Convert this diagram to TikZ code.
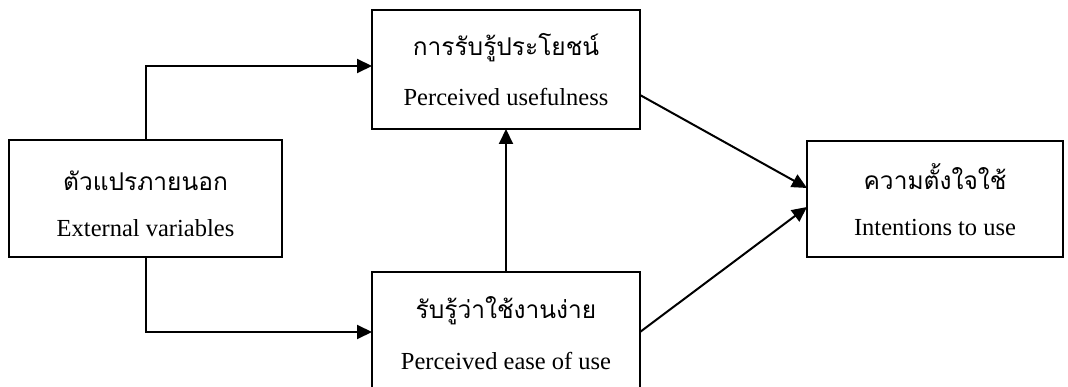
\documentclass[tikz,border=0pt]{standalone}
\usepackage{fontspec}
\setmainfont{Liberation Serif}
\newfontfamily\thaifont[Script=Thai]{Loma}
\usetikzlibrary{arrows.meta}
\begin{document}
\begin{tikzpicture}[x=1pt,y=-1pt,
  box/.style={draw,line width=2pt,inner sep=0pt,outer sep=0pt},
  en/.style={font=\fontsize{24.5}{28}\selectfont,inner sep=0pt,anchor=base},
  th/.style={font=\thaifont\fontsize{24.5}{30}\selectfont,inner sep=0pt,anchor=base},
  arr/.style={line width=2pt,-{Triangle[length=15pt,width=14pt]}}]
\useasboundingbox (0,0) rectangle (1068,387);
\node[box,minimum width=273pt,minimum height=117pt] (ext) at (145.5,198.5) {};
\node[box,minimum width=268pt,minimum height=119pt] (use) at (506,69.5) {};
\node[box,minimum width=268pt,minimum height=128pt] (ease) at (506,336) {};
\node[box,minimum width=256pt,minimum height=116pt] (int) at (935,199) {};
\node[th] (extth) at (145.5,191) {ตัวแปรภายนอก};
\node[en] (exten) at (145.5,237) {External variables};
\node[th] (useth) at (506,56) {การรับรู้ประโยชน์};
\node[en] (useen) at (506,106) {Perceived usefulness};
\node[th] (easeth) at (506,319) {รับรู้ว่าใช้งานง่าย};
\node[en] (easeen) at (506,369) {Perceived ease of use};
\node[th] (intth) at (935,190) {ความตั้งใจใช้};
\node[en] (inten) at (935,236) {Intentions to use};
\draw[arr] (ext.north) |- ([yshift=3.5pt]use.west);
\draw[arr] (ext.south) |- ([yshift=4pt]ease.west);
\draw[arr] (ease.north) -- (use.south);
\draw[arr] ([yshift=-25.5pt]use.east) -- ([yshift=11pt]int.west);
\draw[arr] ([yshift=4pt]ease.east) -- ([yshift=-8pt]int.west);
\end{tikzpicture}
\end{document}
